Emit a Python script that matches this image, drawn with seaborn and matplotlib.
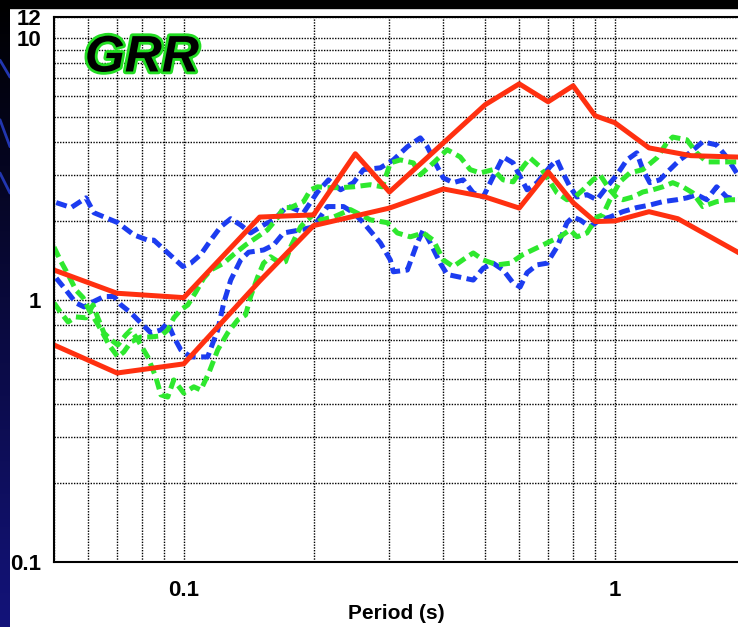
import numpy as np
import pandas as pd
import matplotlib.pyplot as plt
import matplotlib.patheffects as pe
from matplotlib.ticker import LogLocator, NullFormatter, FixedLocator, FixedFormatter
import seaborn as sns

# Red envelopes (solid)
red_hi_period = [0.05, 0.07, 0.1, 0.15, 0.2, 0.25, 0.3, 0.4, 0.5, 0.6, 0.7, 0.8, 0.9, 1.0, 1.2, 1.5, 2.0]
red_hi_amp = [1.30, 1.06, 1.02, 2.07, 2.11, 3.61, 2.58, 3.97, 5.55, 6.67, 5.70, 6.56, 5.04, 4.74, 3.80, 3.55, 3.50]
red_lo_period = [0.05, 0.07, 0.1, 0.15, 0.2, 0.3, 0.4, 0.5, 0.6, 0.7, 0.8, 0.9, 1.0, 1.2, 1.4, 2.0]
red_lo_amp = [0.673, 0.526, 0.57, 1.18, 1.92, 2.24, 2.65, 2.47, 2.24, 3.08, 2.35, 1.99, 2.0, 2.17, 2.04, 1.47]

# Blue dashed curves
blue1_period = [0.0506, 0.0548, 0.0593, 0.0619, 0.0703, 0.0766, 0.0825, 0.0852, 0.0995, 0.1038,
                0.1095, 0.1155, 0.1218, 0.1285, 0.1355, 0.1429, 0.1531, 0.1616, 0.1741, 0.1896,
                0.2043, 0.2166, 0.2310, 0.2475, 0.2610, 0.2858, 0.3063, 0.3301, 0.3537, 0.3671,
                0.3873, 0.3999, 0.4217, 0.4448, 0.4693, 0.4949, 0.5220, 0.5506, 0.5807, 0.6028,
                0.6256, 0.6598, 0.7071, 0.7339, 0.7578, 0.7867, 0.8166, 0.8614, 0.9085, 0.9583,
                1.011, 1.066, 1.124, 1.161, 1.205, 1.271, 1.341, 1.414, 1.492, 1.599,
                1.722, 1.816, 1.916]
blue1_amp = [2.35, 2.25, 2.45, 2.15, 1.97, 1.77, 1.69, 1.69, 1.34, 1.38,
             1.49, 1.69, 1.90, 2.04, 1.93, 1.80, 1.93, 2.02, 2.28, 2.15,
             2.58, 2.87, 2.63, 2.80, 3.14, 3.19, 3.42, 3.84, 4.15, 3.84,
             3.22, 2.92, 2.80, 2.87, 2.56, 2.47, 2.95, 3.51, 3.33, 2.95,
             2.63, 2.80, 3.22, 3.42, 3.05, 2.70, 2.47, 2.52, 2.41, 2.70,
             3.00, 3.42, 3.64, 3.14, 2.80, 2.87, 3.14, 3.42, 3.64, 4.01,
             3.90, 3.51, 3.05]
blue2_period = [0.0506, 0.0533, 0.0562, 0.0587, 0.0616, 0.0653, 0.0689, 0.0715, 0.0754, 0.0795,
                0.0839, 0.0885, 0.0918, 0.0948, 0.0984, 0.1038, 0.1095, 0.1136, 0.1199, 0.1238,
                0.1285, 0.1355, 0.1414, 0.1531, 0.1616, 0.1704, 0.1866, 0.2000, 0.2154, 0.2347,
                0.2475, 0.2610, 0.2858, 0.3014, 0.3063, 0.3301, 0.3481, 0.3594, 0.3731, 0.3935,
                0.4084, 0.4377, 0.4693, 0.4949, 0.5220, 0.5506, 0.5807, 0.6028, 0.6256, 0.6598,
                0.6958, 0.7339, 0.7742, 0.7993, 0.8298, 0.8753, 0.9232, 0.9737, 1.043, 1.124,
                1.205, 1.292, 1.392, 1.468, 1.548, 1.633, 1.722, 1.816, 1.916]
blue2_amp = [1.21, 1.09, 0.974, 0.940, 0.983, 1.03, 1.03, 0.957, 0.892, 0.817,
             0.748, 0.768, 0.817, 0.722, 0.645, 0.606, 0.606, 0.606, 0.768, 0.974,
             1.19, 1.42, 1.52, 1.55, 1.62, 1.80, 1.85, 1.90, 2.27, 2.27,
             2.15, 1.97, 1.65, 1.42, 1.28, 1.30, 1.65, 1.85, 1.65, 1.38,
             1.25, 1.22, 1.19, 1.32, 1.38, 1.30, 1.16, 1.12, 1.27, 1.36,
             1.38, 1.59, 1.97, 2.07, 2.02, 1.90, 2.02, 2.07, 2.17, 2.25,
             2.30, 2.37, 2.41, 2.45, 2.52, 2.41, 2.70, 2.47, 2.41]

# Green dashed curves
green1_period = [0.0500, 0.0519, 0.0539, 0.0562, 0.0584, 0.0603, 0.0619, 0.0643, 0.0671, 0.0703,
                 0.0726, 0.0754, 0.0795, 0.0839, 0.0885, 0.0918, 0.0948, 0.0984, 0.1022, 0.1066,
                 0.1112, 0.1155, 0.1238, 0.1305, 0.1391, 0.1483, 0.1564, 0.1651, 0.1704, 0.1769,
                 0.1896, 0.1968, 0.2043, 0.2154, 0.2310, 0.2475, 0.2709, 0.2888, 0.3014, 0.3180,
                 0.3408, 0.3537, 0.3791, 0.4084, 0.4377, 0.4618, 0.4870, 0.5220, 0.5506, 0.5807,
                 0.6124, 0.6357, 0.6704, 0.7071, 0.7339, 0.7742, 0.8079, 0.8432, 0.8894, 0.9232,
                 0.9737, 1.011, 1.043, 1.101, 1.161, 1.224, 1.292, 1.362, 1.437, 1.516,
                 1.599, 1.722, 1.846, 1.916]
green1_amp = [1.59, 1.40, 1.25, 1.09, 1.02, 0.916, 0.854, 0.768, 0.673, 0.606,
              0.633, 0.691, 0.722, 0.722, 0.729, 0.768, 0.854, 0.916, 0.957, 1.07,
              1.21, 1.30, 1.38, 1.49, 1.62, 1.74, 1.85, 2.06, 2.25, 2.25,
              2.37, 2.63, 2.70, 2.68, 2.68, 2.70, 2.75, 2.70, 3.33, 3.42,
              3.33, 3.00, 3.33, 3.74, 3.51, 3.14, 3.05, 3.14, 2.87, 2.82,
              3.22, 3.48, 3.22, 2.82, 2.56, 2.41, 2.47, 2.63, 2.87, 3.00,
              2.63, 2.45, 2.41, 2.47, 2.58, 2.63, 2.70, 2.80, 2.70, 2.56,
              2.27, 2.37, 2.41, 2.41]
green2_period = [0.0500, 0.0519, 0.0539, 0.0562, 0.0593, 0.0616, 0.0632, 0.0653, 0.0678, 0.0703,
                 0.0734, 0.0754, 0.0782, 0.0825, 0.0861, 0.0885, 0.0918, 0.0948, 0.1000, 0.1055,
                 0.1095, 0.1143, 0.1199, 0.1264, 0.1334, 0.1391, 0.1429, 0.1483, 0.1531, 0.1590,
                 0.1678, 0.1722, 0.1769, 0.1866, 0.1936, 0.2021, 0.2076, 0.2225, 0.2436, 0.2709,
                 0.2967, 0.3129, 0.3354, 0.3594, 0.3791, 0.3999, 0.4217, 0.4544, 0.4693, 0.4949,
                 0.5332, 0.5714, 0.6124, 0.6598, 0.7071, 0.7458, 0.7867, 0.8166, 0.8614, 0.9085,
                 0.9381, 0.9737, 1.027, 1.083, 1.161, 1.251, 1.319, 1.362, 1.468, 1.548,
                 1.633, 1.750, 1.916]
green2_amp = [0.974, 0.892, 0.824, 0.861, 0.854, 0.957, 0.854, 0.748, 0.704, 0.673,
              0.735, 0.768, 0.704, 0.606, 0.508, 0.434, 0.426, 0.495, 0.441, 0.466,
              0.453, 0.526, 0.645, 0.748, 0.839, 0.876, 1.03, 1.22, 1.38, 1.46,
              1.38, 1.40, 1.59, 1.90, 2.02, 2.15, 2.02, 2.07, 2.21, 2.02,
              1.97, 1.80, 1.74, 1.80, 1.69, 1.42, 1.34, 1.46, 1.51, 1.42,
              1.36, 1.38, 1.49, 1.58, 1.67, 1.74, 1.85, 1.74, 1.80, 2.07,
              2.11, 2.41, 2.82, 3.05, 3.14, 3.48, 3.97, 4.18, 4.08, 3.64,
              3.36, 3.36, 3.36]

series = [
    ("blue1", blue1_period, blue1_amp),
    ("blue2", blue2_period, blue2_amp),
    ("green1", green1_period, green1_amp),
    ("green2", green2_period, green2_amp),
    ("red_hi", red_hi_period, red_hi_amp),
    ("red_lo", red_lo_period, red_lo_amp),
]
df = pd.concat([pd.DataFrame({"period": p, "amp": a, "series": n}) for n, p, a in series])

sns.set_style("white")
plt.rcParams['font.family'] = ['Liberation Sans', 'DejaVu Sans']
plt.rcParams['text.color'] = 'black'
plt.rcParams['xtick.color'] = 'black'
plt.rcParams['ytick.color'] = 'black'
plt.rcParams['axes.labelcolor'] = 'black'

fig = plt.figure(figsize=(7.38, 6.27), dpi=100)
fig.patch.set_facecolor("white")

# slide background: dark strip on the left, black band on top
bg = fig.add_axes([0, 0, 10 / 738, 1], zorder=-5)
grad = np.linspace(0, 1, 256).reshape(-1, 1)
bg.imshow(grad, aspect="auto", origin="lower", extent=[0, 1, 0, 1],
          cmap=plt.matplotlib.colors.LinearSegmentedColormap.from_list("slide", ["#13137a", "#000000"]))
for y0, y1 in [(0.904, 0.877), (0.809, 0.766), (0.724, 0.692)]:
    bg.plot([0, 1], [y0, y1], color="#2236b0", lw=2)
bg.set_xlim(0, 1)
bg.set_ylim(0, 1)
bg.axis("off")
fig.patches.append(plt.Rectangle((0, 1 - 8 / 627), 1, 8 / 627, transform=fig.transFigure,
                                 color="black", zorder=-4))

ax = fig.add_axes([54 / 738, 65 / 627, 1 - 54 / 738, (562 - 17) / 627])
ax.set_xscale("log")
ax.set_yscale("log")

palette = {"blue1": "#1c3cf0", "blue2": "#1c3cf0", "green1": "#2ee82e", "green2": "#2ee82e",
           "red_hi": "#ff3010", "red_lo": "#ff3010"}
dashes = {"blue1": (2.2, 1.1), "blue2": (2.2, 1.1), "green1": (2.2, 1.1), "green2": (2.2, 1.1),
          "red_hi": "", "red_lo": ""}
order = [n for n, _, _ in series]
sns.lineplot(data=df, x="period", y="amp", hue="series", style="series", hue_order=order,
             style_order=order, palette=palette, dashes=dashes, linewidth=3.6,
             estimator=None, sort=False, legend=False, ax=ax)

ax.set_xlim(0.05, 1.93)
ax.set_ylim(0.1, 12)

ax.xaxis.set_major_locator(FixedLocator([0.1, 1]))
ax.xaxis.set_major_formatter(FixedFormatter(["0.1", "1"]))
ax.xaxis.set_minor_locator(LogLocator(base=10, subs=np.arange(2, 10)))
ax.xaxis.set_minor_formatter(NullFormatter())
ax.yaxis.set_major_locator(FixedLocator([0.1, 1, 10, 12]))
ax.yaxis.set_major_formatter(FixedFormatter(["0.1", "1", "10", "12"]))
ax.yaxis.set_minor_locator(LogLocator(base=10, subs=np.arange(2, 10)))
ax.yaxis.set_minor_formatter(NullFormatter())

ax.tick_params(which="both", length=0)
ax.tick_params(axis="x", pad=13, labelsize=16)
ax.tick_params(axis="y", pad=9, labelsize=16)
for lab in ax.get_xticklabels() + ax.get_yticklabels():
    lab.set_fontweight("bold")

ax.grid(True, which="both", color="black", linestyle=(0, (1, 1)), linewidth=1.0)
ax.set_axisbelow(True)
for s in ["left", "bottom", "top"]:
    ax.spines[s].set_color("black")
    ax.spines[s].set_linewidth(1.5)
ax.spines["right"].set_visible(False)

ax.set_xlabel("Period (s)", fontsize=15, fontweight="bold", labelpad=2)
ax.set_ylabel("")

ax.text(0.045, 0.9, "GRR", transform=ax.transAxes, fontsize=37, fontweight="bold",
        fontstyle="italic", color="black", va="baseline", ha="left",
        path_effects=[pe.withStroke(linewidth=4, foreground="#22dd22")])

fig.savefig("out.png", dpi=100)
